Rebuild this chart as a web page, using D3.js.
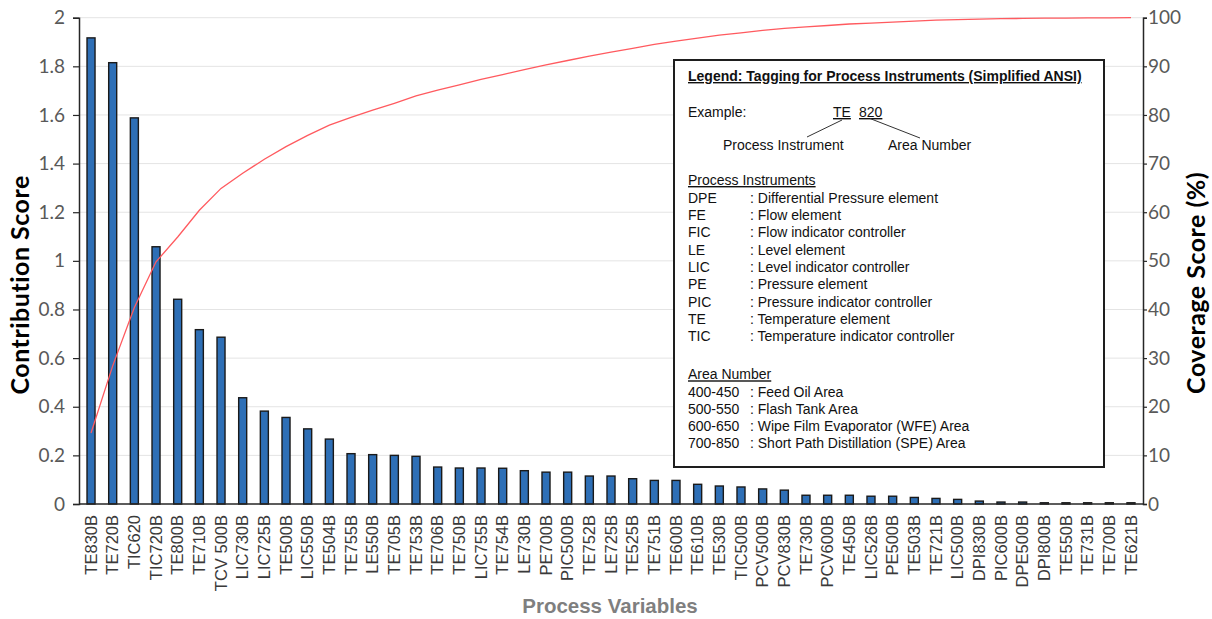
<!DOCTYPE html>
<html>
<head>
<meta charset="utf-8">
<script src="https://cdn.jsdelivr.net/npm/d3@7"></script>
<style>
  body { margin: 0; background: #fff; }
  svg { display: block; }
</style>
</head>
<body>
<svg id="chart" width="1212" height="619"></svg>
<script>
// Process variables ranked by contribution score
const variables = [
  "TE830B", "TE720B", "TIC620", "TIC720B", "TE800B", "TE710B", "TCV 500B", "LIC730B",
  "LIC725B", "TE500B", "LIC550B", "TE504B", "TE755B", "LE550B", "TE705B", "TE753B",
  "TE706B", "TE750B", "LIC755B", "TE754B", "LE730B", "PE700B", "PIC500B", "TE752B",
  "LE725B", "TE525B", "TE751B", "TE600B", "TE610B", "TE530B", "TIC500B", "PCV500B",
  "PCV830B", "TE730B", "PCV600B", "TE450B", "LIC526B", "PE500B", "TE503B", "TE721B",
  "LIC500B", "DPI830B", "PIC600B", "DPE500B", "DPI800B", "TE550B", "TE731B", "TE700B",
  "TE621B"
];

const contribution = [
  1.917, 1.815, 1.588, 1.058, 0.842, 0.717, 0.686, 0.437,
  0.382, 0.356, 0.309, 0.267, 0.207, 0.203, 0.200, 0.196,
  0.152, 0.148, 0.148, 0.147, 0.137, 0.131, 0.131, 0.115,
  0.115, 0.104, 0.097, 0.097, 0.081, 0.074, 0.070, 0.062,
  0.057, 0.036, 0.036, 0.036, 0.032, 0.032, 0.027, 0.023,
  0.019, 0.012, 0.008, 0.008, 0.005, 0.005, 0.005, 0.005,
  0.005
];

// Cumulative coverage (%)
const coverage = [
  14.6, 28.4, 40.4, 49.8, 54.9, 60.4, 64.9, 68.0,
  70.9, 73.5, 75.8, 77.9, 79.5, 81.0, 82.4, 83.9,
  85.1, 86.2, 87.3, 88.3, 89.3, 90.3, 91.2, 92.1,
  92.9, 93.7, 94.5, 95.2, 95.8, 96.4, 96.9, 97.4,
  97.8, 98.1, 98.4, 98.7, 98.9, 99.1, 99.3, 99.5,
  99.6, 99.7, 99.8, 99.85, 99.9, 99.93, 99.96, 99.98,
  100
];

const leftTicks = [0, 0.2, 0.4, 0.6, 0.8, 1, 1.2, 1.4, 1.6, 1.8, 2];
const leftTickLabels = ["0", "0.2", "0.4", "0.6", "0.8", "1", "1.2", "1.4", "1.6", "1.8", "2"];
const rightTicks = [0, 10, 20, 30, 40, 50, 60, 70, 80, 90, 100];
const rightTickLabels = ["0", "10", "20", "30", "40", "50", "60", "70", "80", "90", "100"];

// Tag legend content
const instrumentCodes = ["DPE", "FE", "FIC", "LE", "LIC", "PE", "PIC", "TE", "TIC"];
const instrumentNames = [
  "Differential Pressure element", "Flow element", "Flow indicator controller",
  "Level element", "Level indicator controller", "Pressure element",
  "Pressure indicator controller", "Temperature element", "Temperature indicator controller"
];
const areaRanges = ["400-450", "500-550", "600-650", "700-850"];
const areaNames = [
  "Feed Oil Area", "Flash Tank Area", "Wipe Film Evaporator (WFE) Area",
  "Short Path Distillation (SPE) Area"
];

const svg = d3.select("#chart");
const plot = { left: 79, right: 1143, top: 17.7, bottom: 504 };

const x = d3.scaleBand()
  .domain(variables)
  .range([plot.left, plot.right])
  .paddingInner(0.63)
  .paddingOuter(0.37);

const yLeft = d3.scaleLinear().domain([0, 2]).range([plot.bottom, plot.top]);
const yRight = d3.scaleLinear().domain([0, 100]).range([plot.bottom, plot.top]);

// Horizontal gridlines
svg.append("g")
  .selectAll("line")
  .data(leftTicks.slice(1))
  .join("line")
  .attr("x1", plot.left).attr("x2", plot.right)
  .attr("y1", d => yLeft(d)).attr("y2", d => yLeft(d))
  .attr("stroke", "#e4e4e4").attr("stroke-width", 1);

// Bars
svg.append("g")
  .selectAll("rect")
  .data(variables)
  .join("rect")
  .attr("x", d => x(d))
  .attr("width", x.bandwidth())
  .attr("y", (d, i) => yLeft(contribution[i]))
  .attr("height", (d, i) => plot.bottom - yLeft(contribution[i]))
  .attr("fill", "#2e6fb6")
  .attr("stroke", "#1a1a1a")
  .attr("stroke-width", 1.4);

// Coverage line
const line = d3.line()
  .x((d, i) => x(variables[i]) + x.bandwidth() / 2)
  .y(d => yRight(d));

svg.append("path")
  .datum(coverage)
  .attr("d", line)
  .attr("fill", "none")
  .attr("stroke", "#ff5a5f")
  .attr("stroke-width", 1.3);

const tickFont = "Lato, 'Open Sans', sans-serif";

// Left axis
const leftAxis = d3.axisLeft(yLeft)
  .tickValues(leftTicks)
  .tickFormat((d, i) => leftTickLabels[i])
  .tickSize(6)
  .tickPadding(8);
const gL = svg.append("g").attr("transform", `translate(${plot.left},0)`).call(leftAxis);
gL.select(".domain").attr("stroke", "#262626").attr("stroke-width", 1.5);
gL.selectAll(".tick line").attr("stroke", "#262626").attr("stroke-width", 1.2);
gL.selectAll(".tick text")
  .attr("fill", "#595959")
  .style("font-family", tickFont)
  .style("font-size", "19px");

// Right axis
const rightAxis = d3.axisRight(yRight)
  .tickValues(rightTicks)
  .tickFormat((d, i) => rightTickLabels[i])
  .tickSize(4)
  .tickPadding(1);
const gR = svg.append("g").attr("transform", `translate(${plot.right},0)`).call(rightAxis);
gR.select(".domain").attr("stroke", "#262626").attr("stroke-width", 1.5);
gR.selectAll(".tick line").attr("stroke", "#262626").attr("stroke-width", 1.2);
gR.selectAll(".tick text")
  .attr("fill", "#595959")
  .style("font-family", tickFont)
  .style("font-size", "19px");

// Bottom axis with rotated category labels
const bottomAxis = d3.axisBottom(x).tickSize(0).tickPadding(0);
const gB = svg.append("g").attr("transform", `translate(0,${plot.bottom})`).call(bottomAxis);
gB.select(".domain").attr("stroke", "#262626").attr("stroke-width", 1.5)
  .attr("d", `M${plot.left},0H${plot.right}`);
gB.selectAll(".tick text")
  .attr("transform", "rotate(-90)")
  .attr("x", -11)
  .attr("y", 0)
  .attr("dy", "0.35em")
  .attr("text-anchor", "end")
  .attr("fill", "#3a3a3a")
  .style("font-family", "'Liberation Sans', Arial, sans-serif")
  .style("font-size", "16.5px");

// Axis titles
svg.append("text")
  .attr("transform", `translate(29,${(plot.top + plot.bottom) / 2 + 24}) rotate(-90)`)
  .attr("text-anchor", "middle")
  .attr("fill", "#000")
  .style("font-family", tickFont)
  .style("font-weight", "700")
  .style("font-size", "25px")
  .style("letter-spacing", "0.5px")
  .text("Contribution Score");

svg.append("text")
  .attr("transform", `translate(1205,${(plot.top + plot.bottom) / 2 + 22}) rotate(-90)`)
  .attr("text-anchor", "middle")
  .attr("fill", "#000")
  .style("font-family", tickFont)
  .style("font-weight", "700")
  .style("font-size", "25px")
  .style("letter-spacing", "0.5px")
  .text("Coverage Score (%)");

svg.append("text")
  .attr("x", 610)
  .attr("y", 613)
  .attr("text-anchor", "middle")
  .attr("fill", "#7f7f7f")
  .style("font-family", "'Liberation Sans', Arial, sans-serif")
  .style("font-weight", "700")
  .style("font-size", "20.5px")
  .text("Process Variables");

// Tag legend box
const legend = svg.append("g").attr("transform", "translate(674,60)");
const legendFont = "'Liberation Sans', Arial, sans-serif";
legend.append("rect")
  .attr("width", 430).attr("height", 407)
  .attr("fill", "#fff").attr("stroke", "#1e1e1e").attr("stroke-width", 2);

const ltext = (tx, ty, s, opts = {}) => legend.append("text")
  .attr("x", tx).attr("y", ty)
  .attr("fill", "#111")
  .attr("text-decoration", opts.underline ? "underline" : null)
  .style("font-family", legendFont)
  .style("font-size", (opts.size || 14) + "px")
  .style("font-weight", opts.bold ? "700" : "400")
  .text(s);

ltext(14, 21, "Legend: Tagging for Process Instruments (Simplified ANSI)", { bold: true, underline: true, size: 14 });
ltext(14, 57, "Example:");
ltext(159, 57, "TE", { underline: true });
ltext(185, 57, "820", { underline: true });
ltext(49, 90, "Process Instrument");
ltext(214, 90, "Area Number");

legend.append("line").attr("x1", 168).attr("y1", 60).attr("x2", 133).attr("y2", 77)
  .attr("stroke", "#333").attr("stroke-width", 1);
legend.append("line").attr("x1", 196).attr("y1", 58.5).attr("x2", 246).attr("y2", 78)
  .attr("stroke", "#333").attr("stroke-width", 1);

ltext(14, 125, "Process Instruments", { underline: true });
instrumentCodes.forEach((c, i) => {
  ltext(14, 142.7 + i * 17.3, c);
  ltext(76, 142.7 + i * 17.3, ": " + instrumentNames[i]);
});

ltext(14, 319.3, "Area Number", { underline: true });
areaRanges.forEach((r, i) => {
  ltext(14, 336.7 + i * 17.2, r);
  ltext(76, 336.7 + i * 17.2, ": " + areaNames[i]);
});
</script>
</body>
</html>
